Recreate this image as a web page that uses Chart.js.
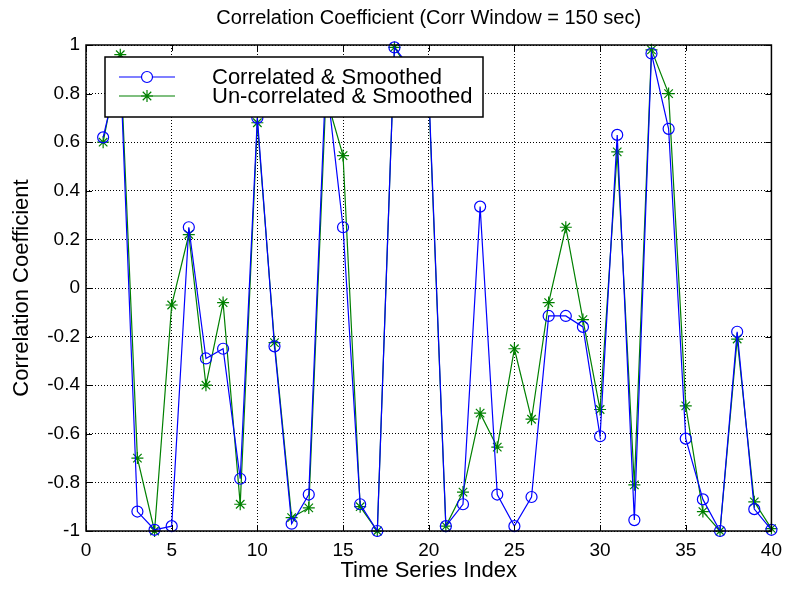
<!DOCTYPE html>
<html lang="en">
<head>
  <meta charset="UTF-8">
  <title>Correlation Coefficient</title>
  <script src="https://cdn.jsdelivr.net/npm/chart.js"></script>
  <style>
    body {
      margin: 0;
      background: #fff;
    }
    .box {
      width: 790px;
      height: 589px;
    }
  </style>
</head>
<body>
  <div class="box">
    <canvas id="corrChart" width="790" height="589"></canvas>
  </div>

  <script>
    // time series index
    const idx = [1, 2, 3, 4, 5, 6, 7, 8, 9, 10,
                 11, 12, 13, 14, 15, 16, 17, 18, 19, 20,
                 21, 22, 23, 24, 25, 26, 27, 28, 29, 30,
                 31, 32, 33, 34, 35, 36, 37, 38, 39, 40];

    // correlated & smoothed (blue, circles)
    const corrSmoothed = [0.62, 0.92, -0.92, -0.995, -0.98, 0.25, -0.29, -0.25, -0.785, 0.70,
                          -0.24, -0.97, -0.85, 0.87, 0.25, -0.89, -1.0, 0.99, 0.90, 0.82,
                          -0.98, -0.89, 0.335, -0.85, -0.98, -0.86, -0.115, -0.115, -0.16, -0.61,
                          0.63, -0.955, 0.965, 0.655, -0.62, -0.87, -1.0, -0.18, -0.91, -0.995];

    // un-correlated & smoothed (green, stars)
    const uncorrSmoothed = [0.60, 0.96, -0.70, -1.0, -0.07, 0.22, -0.40, -0.06, -0.89, 0.68,
                            -0.225, -0.945, -0.905, 0.79, 0.545, -0.90, -1.0, 0.99, 0.88, 0.80,
                            -0.98, -0.84, -0.515, -0.655, -0.25, -0.54, -0.06, 0.25, -0.13, -0.50,
                            0.56, -0.81, 0.98, 0.80, -0.485, -0.92, -1.0, -0.21, -0.88, -0.99];

    const xTicks = [0, 5, 10, 15, 20, 25, 30, 35, 40];
    const yTicks = [-1, -0.8, -0.6, -0.4, -0.2, 0, 0.2, 0.4, 0.6, 0.8, 1];

    const FONT = '"Liberation Sans", Arial, Helvetica, sans-serif';

    // box round the axes plus inward tick marks, like matlab
    const axesBox = {
      id: 'axesBox',
      afterDatasetsDraw(chart) {
        const { ctx, chartArea: a, scales } = chart;
        ctx.save();
        ctx.strokeStyle = '#000';
        ctx.lineWidth = 1;
        ctx.beginPath();
        xTicks.forEach(t => {
          const px = Math.round(scales.x.getPixelForValue(t)) + 0.5;
          ctx.moveTo(px, a.bottom); ctx.lineTo(px, a.bottom - 6);
          ctx.moveTo(px, a.top); ctx.lineTo(px, a.top + 6);
        });
        yTicks.forEach(t => {
          const py = Math.round(scales.y.getPixelForValue(t)) + 0.5;
          ctx.moveTo(a.left, py); ctx.lineTo(a.left + 6, py);
          ctx.moveTo(a.right, py); ctx.lineTo(a.right - 6, py);
        });
        ctx.stroke();
        ctx.lineWidth = 1.5;
        ctx.strokeRect(a.left, a.top, a.right - a.left, a.bottom - a.top);
        ctx.restore();
      }
    };

    // legend box sitting inside the axes
    const insideLegend = {
      id: 'insideLegend',
      afterDatasetsDraw(chart) {
        const ctx = chart.ctx;
        const lx = 105, ly = 57, lw = 378, lh = 60;
        ctx.save();
        ctx.fillStyle = '#fff';
        ctx.fillRect(lx, ly, lw, lh);
        ctx.strokeStyle = '#000';
        ctx.lineWidth = 1.5;
        ctx.strokeRect(lx, ly, lw, lh);
        chart.data.datasets.forEach((ds, i) => {
          const y = ly + 20 + i * 19;
          ctx.strokeStyle = ds.borderColor;
          ctx.lineWidth = 1.2;
          ctx.beginPath();
          ctx.moveTo(119, y); ctx.lineTo(175, y);
          ctx.stroke();
          Chart.helpers.drawPoint(ctx, {
            pointStyle: ds.pointStyle,
            radius: ds.pointRadius,
            borderWidth: 1.2,
            rotation: 0
          }, 147, y);
          ctx.fillStyle = '#000';
          ctx.font = '22px ' + FONT;
          ctx.textBaseline = 'middle';
          ctx.textAlign = 'left';
          ctx.fillText(ds.label, 212, y + 1);
        });
        ctx.restore();
      }
    };

    new Chart(document.getElementById('corrChart').getContext('2d'), {
      type: 'line',
      data: {
        datasets: [
          {
            label: 'Correlated & Smoothed',
            data: idx.map((v, i) => ({ x: v, y: corrSmoothed[i] })),
            borderColor: '#0000ff',
            backgroundColor: 'rgba(0,0,0,0)',
            pointBorderColor: '#0000ff',
            pointBackgroundColor: 'rgba(0,0,0,0)',
            borderWidth: 1.2,
            pointStyle: 'circle',
            pointRadius: 5.5,
            pointBorderWidth: 1.2,
            tension: 0,
            clip: false
          },
          {
            label: 'Un-correlated & Smoothed',
            data: idx.map((v, i) => ({ x: v, y: uncorrSmoothed[i] })),
            borderColor: '#008000',
            backgroundColor: 'rgba(0,0,0,0)',
            pointBorderColor: '#008000',
            pointBackgroundColor: 'rgba(0,0,0,0)',
            borderWidth: 1.2,
            pointStyle: 'star',
            pointRadius: 6,
            pointBorderWidth: 1.2,
            tension: 0,
            clip: false
          }
        ]
      },
      options: {
        responsive: false,
        animation: false,
        events: [],
        layout: { padding: { left: 0, right: 13, top: 0, bottom: 0 } },
        plugins: {
          legend: { display: false },
          tooltip: { enabled: false },
          title: {
            display: true,
            fullSize: false,
            text: 'Correlation Coefficient (Corr Window = 150 sec)',
            color: '#000',
            font: { family: FONT, size: 20, weight: 'normal' },
            padding: { top: 6, bottom: 15 }
          }
        },
        scales: {
          x: {
            type: 'linear',
            min: 0,
            max: 40,
            afterBuildTicks: s => { s.ticks = xTicks.map(v => ({ value: v })); },
            afterFit: s => { s.height = 58; },
            ticks: { color: '#000', font: { family: FONT, size: 19 }, padding: 8, maxRotation: 0 },
            grid: { color: '#000', lineWidth: 1, drawTicks: false },
            border: { display: false, dash: [1, 2] },
            title: {
              display: true,
              text: 'Time Series Index',
              color: '#000',
              font: { family: FONT, size: 22 },
              padding: { top: 0, bottom: 4.8 }
            }
          },
          y: {
            min: -1,
            max: 1,
            afterBuildTicks: s => { s.ticks = yTicks.map(v => ({ value: v })); },
            afterFit: s => { s.width = 86; },
            ticks: {
              color: '#000',
              font: { family: FONT, size: 19 },
              padding: 6,
              callback: v => String(Math.round(v * 10) / 10)
            },
            grid: { color: '#000', lineWidth: 1, drawTicks: false },
            border: { display: false, dash: [1, 2] },
            title: {
              display: true,
              text: 'Correlation Coefficient',
              color: '#000',
              font: { family: FONT, size: 22 },
              padding: { top: 8.8, bottom: 0 }
            }
          }
        }
      },
      plugins: [axesBox, insideLegend]
    });
  </script>
</body>
</html>
